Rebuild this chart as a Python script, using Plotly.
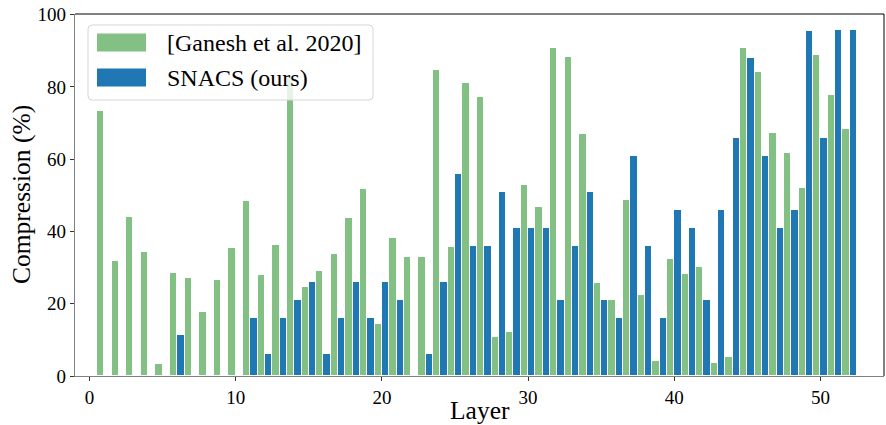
import numpy as np
import plotly.graph_objects as go

layers = list(range(1, 53))
ganesh = [73.3, 31.8, 44.0, 34.3, 3.3, 28.5, 27.1, 17.7, 26.6, 35.4,
          48.4, 27.9, 36.2, 82.6, 24.7, 29.0, 33.7, 43.7, 51.7, 14.4,
          38.2, 32.9, 32.9, 84.6, 35.7, 81.0, 77.2, 10.8, 12.2, 52.8,
          46.7, 90.7, 88.2, 66.9, 25.7, 21.0, 48.7, 22.4, 4.1, 32.4,
          28.2, 30.2, 3.6, 5.2, 90.7, 84.1, 67.2, 61.7, 52.0, 88.8,
          77.7, 68.3]
snacs = [0, 0, 0, 0, 0, 11.3, 0, 0, 0, 0,
         16.0, 6.1, 16.0, 21.0, 26.0, 6.1, 16.0, 26.0, 16.0, 26.0,
         21.0, 0, 6.1, 26.0, 55.9, 36.0, 36.0, 50.9, 40.9, 40.9,
         40.9, 21.0, 36.0, 50.9, 21.0, 16.0, 60.9, 36.0, 16.0, 45.9,
         40.9, 21.0, 45.9, 65.9, 88.0, 60.9, 40.9, 45.9, 95.4, 65.9,
         95.7, 95.7]
series_names = ["[Ganesh et al. 2020]", "SNACS (ours)"]
x_ticks = [0, 10, 20, 30, 40, 50]
y_ticks = [0, 20, 40, 60, 80, 100]

GREEN = "#82c083"
BLUE = "#1f77b4"
FONT = "Liberation Serif, Times New Roman, serif"

W, H = 886, 425
L, R, T, B = 75, 884, 14, 376  # plot area in pixels

def px(x):
    return (x - L) / (R - L)

def py(y):
    return (B - y) / (B - T)

fig = go.Figure()
fig.add_trace(go.Bar(x=layers, y=ganesh, name=series_names[0],
                     marker=dict(color=GREEN, line=dict(color="white", width=1)),
                     showlegend=False))
fig.add_trace(go.Bar(x=layers, y=snacs, name=series_names[1],
                     marker=dict(color=BLUE, line=dict(color="white", width=1)),
                     showlegend=False))

shapes = []
# top and right spines (black)
shapes.append(dict(type="line", xref="paper", yref="paper", x0=0, x1=1, y0=1, y1=1,
                   line=dict(color="black", width=1)))
shapes.append(dict(type="line", xref="paper", yref="paper", x0=1, x1=1, y0=0, y1=1,
                   line=dict(color="black", width=1)))

# legend box with rounded corners
bx0, bx1, by0, by1 = px(88), px(373), py(100), py(25)
rx = 4 / (R - L)
ry = 4 / (B - T)
path = (f"M {bx0+rx},{by0} L {bx1-rx},{by0} Q {bx1},{by0} {bx1},{by0+ry} "
        f"L {bx1},{by1-ry} Q {bx1},{by1} {bx1-rx},{by1} "
        f"L {bx0+rx},{by1} Q {bx0},{by1} {bx0},{by1-ry} "
        f"L {bx0},{by0+ry} Q {bx0},{by0} {bx0+rx},{by0} Z")
shapes.append(dict(type="path", xref="paper", yref="paper", path=path,
                   fillcolor="rgba(255,255,255,0.8)", line=dict(color="#d6d6d6", width=1),
                   layer="above"))
# legend swatches
shapes.append(dict(type="rect", xref="paper", yref="paper",
                   x0=px(97), x1=px(146), y0=py(51.5), y1=py(33.5),
                   fillcolor=GREEN, line=dict(width=0), layer="above"))
shapes.append(dict(type="rect", xref="paper", yref="paper",
                   x0=px(97), x1=px(146), y0=py(86.5), y1=py(68.5),
                   fillcolor=BLUE, line=dict(width=0), layer="above"))

annotations = [
    dict(text=series_names[0], xref="paper", yref="paper", x=px(165), y=py(43),
         xanchor="left", yanchor="middle", showarrow=False,
         font=dict(family=FONT, size=24, color="black")),
    dict(text=series_names[1], xref="paper", yref="paper", x=px(165), y=py(78),
         xanchor="left", yanchor="middle", showarrow=False,
         font=dict(family=FONT, size=24, color="black")),
    dict(text="Layer", xref="paper", yref="paper", x=0.5, y=py(410),
         xanchor="center", yanchor="middle", showarrow=False,
         font=dict(family=FONT, size=25.5, color="black")),
    dict(text="Compression (%)", xref="paper", yref="paper", x=px(21), y=0.5,
         xanchor="center", yanchor="middle", showarrow=False, textangle=-90,
         font=dict(family=FONT, size=25.5, color="black")),
]

fig.update_layout(
    width=W, height=H,
    margin=dict(l=L, r=W - R, t=T, b=H - B, pad=0),
    paper_bgcolor="white", plot_bgcolor="white",
    barmode="group", bargap=0, bargroupgap=0,
    shapes=shapes, annotations=annotations,
    font=dict(family=FONT, size=19, color="black"),
)
fig.update_xaxes(range=[-1.0, 54.35], tickvals=x_ticks, showgrid=False, zeroline=False,
                 showline=True, linecolor="#808080", linewidth=1.2,
                 ticks="outside", ticklen=4, tickcolor="#333333",
                 tickfont=dict(family=FONT, size=19, color="black"))
fig.update_yaxes(range=[0, 100.2], tickvals=y_ticks, showgrid=False, zeroline=False,
                 showline=True, linecolor="#808080", linewidth=1.2,
                 ticks="outside", ticklen=4, tickcolor="#333333",
                 tickfont=dict(family=FONT, size=19, color="black"))

fig.write_html("out.html", config={"displayModeBar": False},
               post_script="document.body.style.margin='0';document.body.style.overflow='hidden';")
